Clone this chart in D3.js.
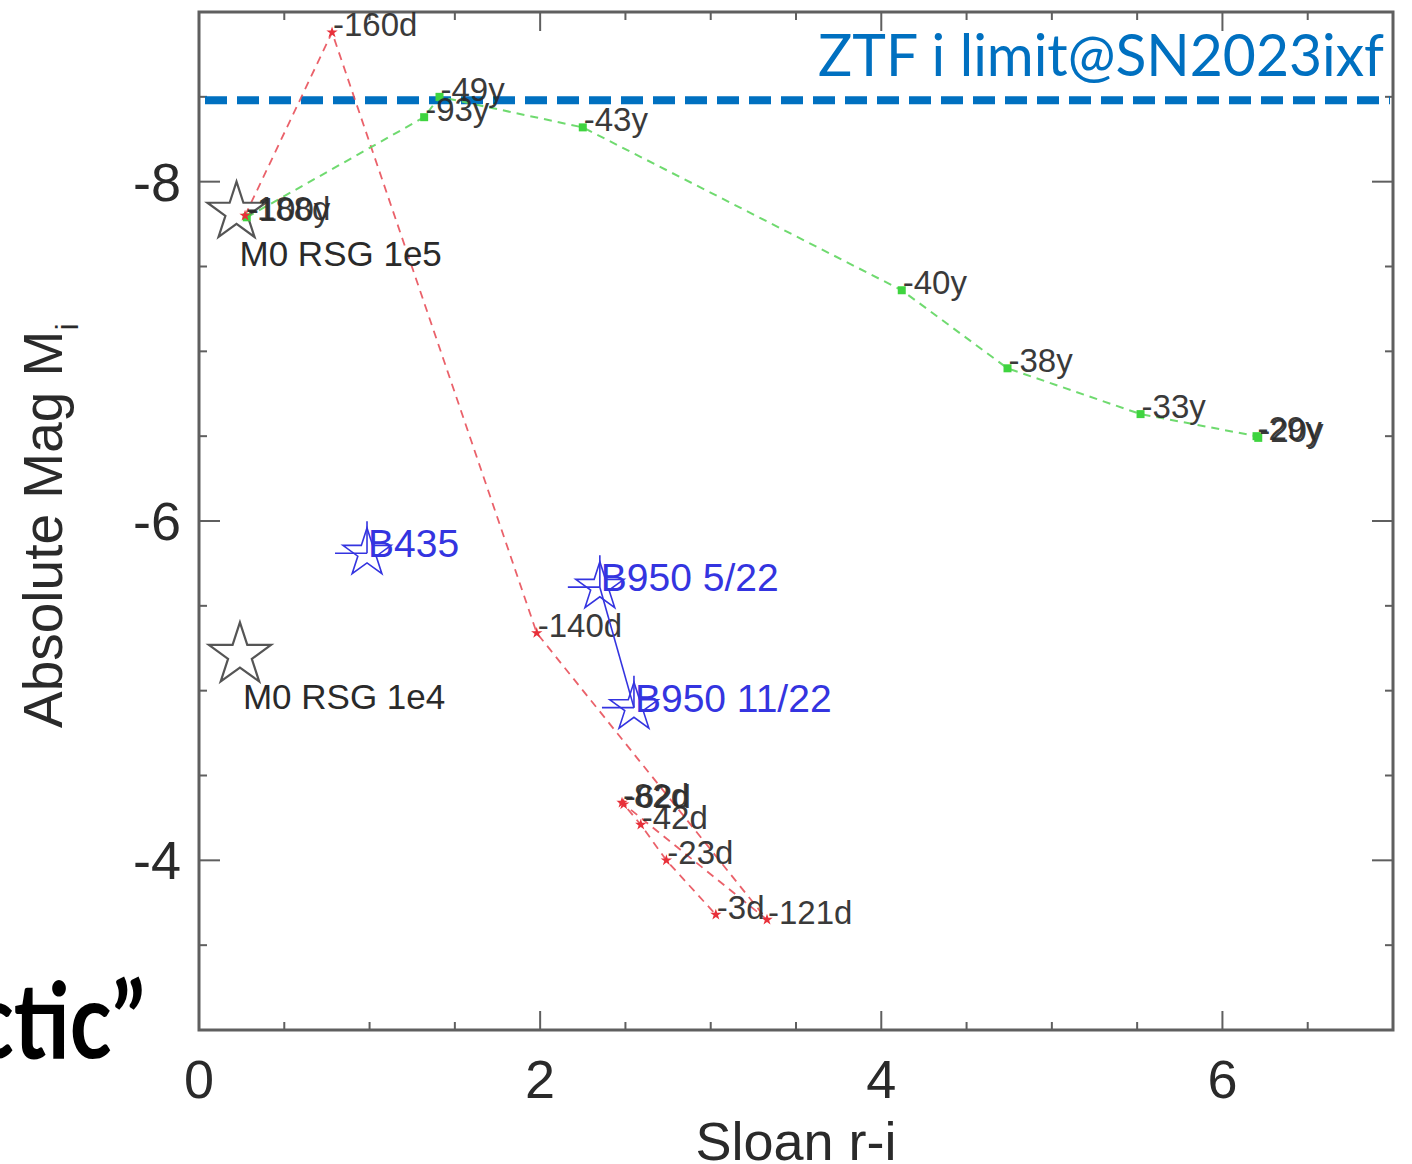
<!DOCTYPE html>
<html>
<head>
<meta charset="utf-8">
<script src="https://cdn.jsdelivr.net/npm/d3@7"></script>
<style>
  html, body { margin: 0; padding: 0; background: #fff; }
  svg { display: block; }
</style>
</head>
<body>
<svg id="chart" width="1412" height="1164"></svg>
<script>
// red track: progenitor model, days before explosion
var redLabels = ['-188d', '-160d', '-140d', '-121d', '-82d', '-62d', '-42d', '-23d', '-3d']
var redX = [0.27, 0.78, 1.98, 3.33, 2.48, 2.49, 2.59, 2.74, 3.03]
var redY = [-7.80, -8.88, -5.34, -3.65, -4.34, -4.33, -4.21, -4.0, -3.68]

// green track: years before explosion
var greenLabels = ['-100y', '-93y', '-49y', '-43y', '-40y', '-38y', '-33y', '-29y', '-20y']
var greenX = [0.28, 1.32, 1.41, 2.25, 4.12, 4.74, 5.52, 6.2, 6.21]
var greenY = [-7.79, -8.38, -8.5, -8.32, -7.36, -6.9, -6.63, -6.5, -6.49]

// reference red supergiants (open black stars)
var rsgLabels = ['M0 RSG 1e5', 'M0 RSG 1e4']
var rsgX = [0.22, 0.24]
var rsgY = [-7.82, -5.21]

// blue stars (observed)
var obsLabels = ['B435', 'B950 5/22', 'B950 11/22']
var obsX = [0.985, 2.35, 2.55]
var obsY = [-5.81, -5.61, -4.9]

var ztfLimit = -8.48
var ztfText = 'ZTF i limit@SN2023ixf'

var xTicks = [0, 2, 4, 6]
var yTicks = [-8, -6, -4]

var svg = d3.select('#chart')
var margin = { top: 12, left: 199, right: 19, bottom: 134 }
var width = 1412 - margin.left - margin.right,
  height = 1164 - margin.top - margin.bottom

var x = d3.scaleLinear().domain([0, 7]).range([0, width])
var y = d3.scaleLinear().domain([-9, -3]).range([0, height])

var g = svg.append('g').attr('transform', 'translate(' + margin.left + ',' + margin.top + ')')

var axisColor = '#5f5f5f',
  textColor = '#2a2a2a'

// ticks (inward, all four sides)
var xMinor = d3.range(0, 7.01, 0.5),
  yMinor = d3.range(-9, -2.99, 0.5)

function tickLen(v) {
  return Math.abs(v - Math.round(v / 2) * 2) < 1e-6 ? 19 : 8
}
function tickLenY(v) {
  return Math.abs(v - Math.round(v / 2) * 2) < 1e-6 ? 21 : 8
}

xMinor.forEach(function (v) {
  g.append('line').attr('x1', x(v)).attr('x2', x(v))
    .attr('y1', height).attr('y2', height - tickLen(v))
    .attr('stroke', axisColor).attr('stroke-width', 2)
  g.append('line').attr('x1', x(v)).attr('x2', x(v))
    .attr('y1', 0).attr('y2', tickLen(v))
    .attr('stroke', axisColor).attr('stroke-width', 2)
})
yMinor.forEach(function (v) {
  g.append('line').attr('x1', 0).attr('x2', tickLenY(v))
    .attr('y1', y(v)).attr('y2', y(v))
    .attr('stroke', axisColor).attr('stroke-width', 2)
  g.append('line').attr('x1', width).attr('x2', width - tickLenY(v))
    .attr('y1', y(v)).attr('y2', y(v))
    .attr('stroke', axisColor).attr('stroke-width', 2)
})

g.append('rect')
  .attr('x', 0).attr('y', 0).attr('width', width).attr('height', height)
  .attr('fill', 'none').attr('stroke', axisColor).attr('stroke-width', 3)

// tick labels
g.selectAll('.xlab').data(xTicks).enter().append('text')
  .attr('class', 'xlab')
  .attr('x', function (d) { return x(d) })
  .attr('y', height + 68)
  .attr('text-anchor', 'middle')
  .attr('font-family', 'Liberation Sans, Arial, sans-serif')
  .attr('font-size', 54)
  .attr('fill', textColor)
  .text(function (d) { return d })

g.selectAll('.ylab').data(yTicks).enter().append('text')
  .attr('class', 'ylab')
  .attr('x', -18)
  .attr('y', function (d) { return y(d) + 19 })
  .attr('text-anchor', 'end')
  .attr('font-family', 'Liberation Sans, Arial, sans-serif')
  .attr('font-size', 54)
  .attr('fill', textColor)
  .text(function (d) { return d })

// axis titles
svg.append('text')
  .attr('x', margin.left + x(3.5))
  .attr('y', 1160)
  .attr('text-anchor', 'middle')
  .attr('font-family', 'Liberation Sans, Arial, sans-serif')
  .attr('font-size', 54)
  .attr('fill', textColor)
  .text('Sloan r-i')

var yt = svg.append('text')
  .attr('transform', 'translate(62,728) rotate(-90)')
  .attr('font-family', 'Liberation Sans, Arial, sans-serif')
  .attr('font-size', 55)
  .attr('fill', textColor)
yt.append('tspan').text('Absolute Mag M')
yt.append('tspan').attr('font-size', 32).attr('dy', 16).text('i')

// ZTF limit line
g.append('line')
  .attr('x1', 6).attr('x2', width - 3)
  .attr('y1', y(ztfLimit)).attr('y2', y(ztfLimit))
  .attr('stroke', '#0070c0').attr('stroke-width', 8)
  .attr('stroke-dasharray', '22,10')

svg.append('text')
  .attr('x', 1384).attr('y', 76)
  .attr('text-anchor', 'end')
  .attr('font-family', 'Lato, Open Sans, sans-serif')
  .attr('font-size', 58)
  .attr('fill', '#0070c0')
  .attr('textLength', 566)
  .attr('lengthAdjust', 'spacingAndGlyphs')
  .text(ztfText)

// tracks
var line = d3.line()
  .x(function (d) { return x(d[0]) })
  .y(function (d) { return y(d[1]) })

var redPts = redX.map(function (v, i) { return [v, redY[i], redLabels[i]] })
var greenPts = greenX.map(function (v, i) { return [v, greenY[i], greenLabels[i]] })

g.append('path').datum(redPts).attr('d', line)
  .attr('fill', 'none').attr('stroke', '#e8505a').attr('stroke-width', 1.8)
  .attr('stroke-dasharray', '8,6').attr('opacity', 0.9)

g.append('path').datum(greenPts).attr('d', line)
  .attr('fill', 'none').attr('stroke', '#5fd65f').attr('stroke-width', 2)
  .attr('stroke-dasharray', '8,6').attr('opacity', 0.9)

// open star reference markers
var bigStar = d3.symbol().type(d3.symbolStar)

rsgX.forEach(function (v, i) {
  g.append('path')
    .attr('d', bigStar.size(i === 0 ? 1050 : 1200)())
    .attr('transform', 'translate(' + x(v) + ',' + y(rsgY[i]) + ')')
    .attr('fill', 'none').attr('stroke', '#555').attr('stroke-width', 2.2)
  g.append('text')
    .attr('x', x(v) + 3).attr('y', y(rsgY[i]) + 54)
    .attr('font-family', 'Liberation Sans, Arial, sans-serif')
    .attr('font-size', 35)
    .attr('fill', textColor)
    .text(rsgLabels[i])
})

// green markers
g.selectAll('.gpt').data(greenPts).enter().append('rect')
  .attr('class', 'gpt')
  .attr('x', function (d) { return x(d[0]) - 4 })
  .attr('y', function (d) { return y(d[1]) - 4 })
  .attr('width', 8).attr('height', 8)
  .attr('fill', '#3fd43f')

// red markers
g.selectAll('.rpt').data(redPts).enter().append('path')
  .attr('class', 'rpt')
  .attr('d', d3.symbol().type(d3.symbolStar).size(40)())
  .attr('transform', function (d) { return 'translate(' + x(d[0]) + ',' + y(d[1]) + ')' })
  .attr('fill', '#e8303a')

// point labels
var ptLabels = redPts.concat(greenPts)
g.selectAll('.plab').data(ptLabels).enter().append('text')
  .attr('class', 'plab')
  .attr('x', function (d) { return x(d[0]) + 1 })
  .attr('y', function (d) { return y(d[1]) + 4 })
  .attr('font-family', 'Liberation Sans, Arial, sans-serif')
  .attr('font-size', 33)
  .attr('fill', textColor)
  .attr('opacity', 0.92)
  .text(function (d) { return d[2] })

// observed blue stars, B950 epochs joined
var blue = '#3434e0'
g.append('line')
  .attr('x1', x(obsX[1])).attr('y1', y(obsY[1]))
  .attr('x2', x(obsX[2])).attr('y2', y(obsY[2]))
  .attr('stroke', blue).attr('stroke-width', 1.6)

var smallStar = d3.symbol().type(d3.symbolStar).size(720)
obsX.forEach(function (v, i) {
  var cx = x(v), cy = y(obsY[i])
  g.append('path')
    .attr('d', smallStar())
    .attr('transform', 'translate(' + cx + ',' + cy + ')')
    .attr('fill', 'none').attr('stroke', blue).attr('stroke-width', 1.6)
  g.append('line')
    .attr('x1', cx - 32).attr('x2', cx).attr('y1', cy).attr('y2', cy)
    .attr('stroke', blue).attr('stroke-width', 1.6)
  g.append('line')
    .attr('x1', cx).attr('x2', cx).attr('y1', cy - 32).attr('y2', cy)
    .attr('stroke', blue).attr('stroke-width', 1.6)
  g.append('text')
    .attr('x', cx + 1).attr('y', cy + 4)
    .attr('font-family', 'Liberation Sans, Arial, sans-serif')
    .attr('font-size', 39)
    .attr('fill', blue)
    .text(obsLabels[i])
})

// clipped slide text at lower left (narrowed to mimic a condensed face)
svg.append('text')
  .attr('transform', 'translate(145,1058) scale(0.82,1)')
  .attr('text-anchor', 'end')
  .attr('font-family', 'Lato, Open Sans, sans-serif')
  .attr('font-weight', 'bold')
  .attr('font-size', 106)
  .attr('fill', '#000')
  .text('ctic\u201d')
</script>
</body>
</html>
